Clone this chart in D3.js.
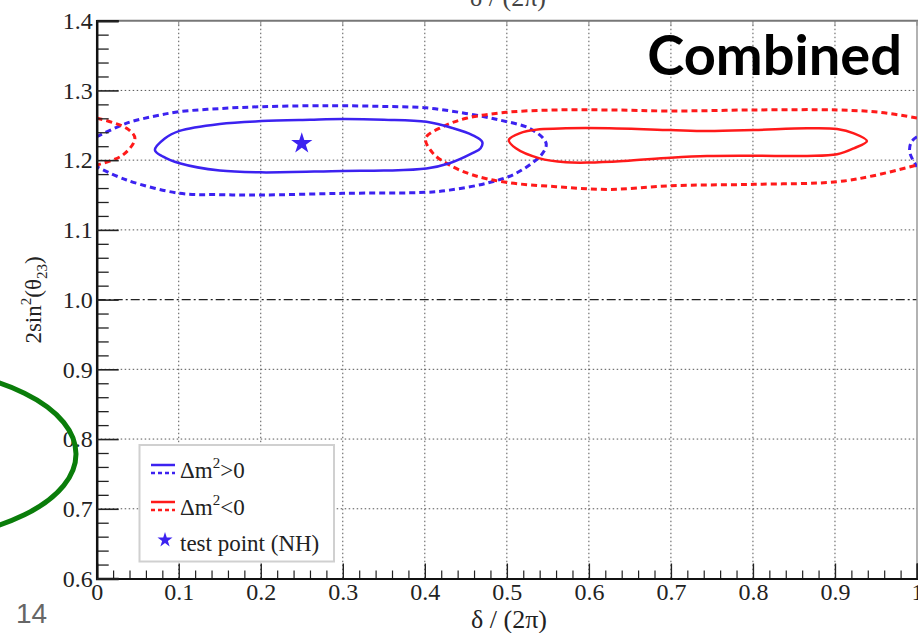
<!DOCTYPE html>
<html><head><meta charset="utf-8">
<script src="https://cdn.jsdelivr.net/npm/d3@7"></script>
<style>
html,body{margin:0;padding:0;background:#fff;overflow:hidden}
svg{display:block}
</style></head>
<body>
<svg id="c" width="918" height="633"></svg>
<script>
// ---------------- data ----------------
const xMajorTicks = [0,0.1,0.2,0.3,0.4,0.5,0.6,0.7,0.8,0.9,1.0];
const yMajorTicks = [0.6,0.7,0.8,0.9,1.0,1.1,1.2,1.3,1.4];
const xMinorStep = 0.02, yMinorStep = 0.02;
const refLine = 1.0;
const testPoint = [0.25, 1.224];

// NH (dm2>0) 1 sigma closed contour
const blueSolid = [[0.071,1.2145],[0.083,1.231],[0.101,1.242],[0.15,1.252],[0.201,1.256],[0.26,1.258],[0.3,1.259],[0.35,1.258],[0.402,1.255],[0.434,1.246],[0.458,1.236],[0.47,1.226],[0.468,1.217],[0.458,1.210],[0.430,1.1955],[0.402,1.188],[0.35,1.185],[0.3,1.1845],[0.2,1.1825],[0.15,1.185],[0.101,1.1955],[0.081,1.205]];
// NH 2 sigma (wraps around delta = 0/1)
const blueDashed = [[0,1.2336],[0.0365,1.253],[0.07,1.263],[0.101,1.2695],[0.15,1.274],[0.201,1.2767],[0.26,1.278],[0.3,1.278],[0.35,1.277],[0.402,1.275],[0.45,1.267],[0.491,1.2576],[0.5275,1.2457],[0.546,1.229],[0.548,1.221],[0.542,1.2074],[0.511,1.181],[0.475,1.1668],[0.430,1.157],[0.402,1.1539],[0.3,1.1524],[0.201,1.150],[0.15,1.1505],[0.101,1.1524],[0.0365,1.1715],[0,1.1906]];
const blueDashedWrap = [[1.0,1.2336],[0.993,1.226],[0.991,1.213],[0.995,1.200],[1.0,1.1906]];
// IH (dm2<0) 1 sigma closed contour
const redSolid = [[0.5024,1.2289],[0.5154,1.2385],[0.54,1.2442],[0.572,1.2457],[0.625,1.2457],[0.6996,1.2432],[0.744,1.2418],[0.801,1.2432],[0.866,1.2457],[0.9026,1.2447],[0.923,1.2385],[0.939,1.2275],[0.923,1.217],[0.9026,1.2084],[0.866,1.206],[0.801,1.2064],[0.744,1.206],[0.6996,1.2035],[0.643,1.1988],[0.6,1.1965],[0.572,1.197],[0.54,1.2026],[0.511,1.217]];
// IH 2 sigma (wraps around delta = 0/1)
const redDashed = [[1.0,1.2605],[0.955,1.2686],[0.9026,1.272],[0.801,1.272],[0.6996,1.2705],[0.625,1.272],[0.56,1.272],[0.499,1.2686],[0.4505,1.260],[0.422,1.248],[0.401,1.2313],[0.41,1.2097],[0.430,1.193],[0.4586,1.1787],[0.499,1.1682],[0.56,1.162],[0.625,1.158],[0.6996,1.1633],[0.801,1.1653],[0.9026,1.169],[0.947,1.1777],[1.0,1.193]];
const redDashedWrap = [[0,1.2605],[0.0365,1.2457],[0.0466,1.2313],[0.032,1.2074],[0,1.193]];

const legendItems = [
  {kind:"lines", color:"#3c22f0", pre:"Δm", sup:"2", post:">0"},
  {kind:"lines", color:"#ff1a1a", pre:"Δm", sup:"2", post:"<0"},
  {kind:"star",  color:"#3c22f0", pre:"test point (NH)", sup:"", post:""}
];

// ---------------- drawing ----------------
const BLUE = "#3c22f0", RED = "#ff1a1a";
const svg = d3.select("#c");
const L = 96.7, R = 917, T = 20.7, B = 578.5;
const x = d3.scaleLinear().domain([0,1]).range([L,R]);
const y = d3.scaleLinear().domain([0.6,1.4]).range([B,T]);
const serif = "'Liberation Serif','DejaVu Serif',serif";

svg.append("defs").append("clipPath").attr("id","plot")
  .append("rect").attr("x",L).attr("y",T).attr("width",R-L).attr("height",B-T);

// grid
const grid = svg.append("g");
grid.selectAll("line.v").data(xMajorTicks.filter(d=>d>0 && d<1)).join("line")
  .attr("x1",d=>x(d)).attr("x2",d=>x(d)).attr("y1",T).attr("y2",B)
  .attr("stroke","#555").attr("stroke-width",1).attr("stroke-dasharray","1.5 2.5");
grid.selectAll("line.h").data(yMajorTicks.filter(d=>d>0.6 && d<1.4 && d!==refLine)).join("line")
  .attr("x1",L).attr("x2",R).attr("y1",d=>y(d)).attr("y2",d=>y(d))
  .attr("stroke","#555").attr("stroke-width",1).attr("stroke-dasharray","1.5 2.5");
// reference line at 1.0
svg.append("line").attr("x1",L).attr("x2",R).attr("y1",y(refLine)).attr("y2",y(refLine))
  .attr("stroke","#222").attr("stroke-width",1.3).attr("stroke-dasharray","9 3 2 3");

// frame top/right
svg.append("line").attr("x1",L).attr("x2",918).attr("y1",T).attr("y2",T).attr("stroke","#777").attr("stroke-width",2);
svg.append("line").attr("x1",R).attr("x2",R).attr("y1",T).attr("y2",B).attr("stroke","#999").attr("stroke-width",1.5);
// top axis ticks
svg.append("g").selectAll("line").data(xMajorTicks).join("line")
  .attr("x1",d=>x(d)).attr("x2",d=>x(d)).attr("y1",T).attr("y2",T+5)
  .attr("stroke","#888").attr("stroke-width",1);

// contours
const plot = svg.append("g").attr("clip-path","url(#plot)");
const closedLine = d3.line().x(d=>x(d[0])).y(d=>y(d[1])).curve(d3.curveCatmullRomClosed.alpha(0.5));
const openLine = d3.line().x(d=>x(d[0])).y(d=>y(d[1])).curve(d3.curveCatmullRom.alpha(0.5));
const dash = "6 4";
plot.append("path").attr("d",openLine(blueDashed)).attr("fill","none").attr("stroke",BLUE).attr("stroke-width",3).attr("stroke-dasharray",dash);
plot.append("path").attr("d",openLine(blueDashedWrap)).attr("fill","none").attr("stroke",BLUE).attr("stroke-width",3).attr("stroke-dasharray",dash);
plot.append("path").attr("d",openLine(redDashed)).attr("fill","none").attr("stroke",RED).attr("stroke-width",3).attr("stroke-dasharray",dash);
plot.append("path").attr("d",openLine(redDashedWrap)).attr("fill","none").attr("stroke",RED).attr("stroke-width",3).attr("stroke-dasharray",dash);
plot.append("path").attr("d",closedLine(blueSolid)).attr("fill","none").attr("stroke",BLUE).attr("stroke-width",2.5);
plot.append("path").attr("d",closedLine(redSolid)).attr("fill","none").attr("stroke",RED).attr("stroke-width",2.5);
plot.append("path").attr("d",d3.symbol(d3.symbolStar,140)())
  .attr("transform",`translate(${x(testPoint[0])},${y(testPoint[1])})`).attr("fill",BLUE);

// axes
function styleAxis(g, fs){
  g.selectAll("text").attr("font-family",serif).attr("font-size",fs).attr("fill","#222");
}
const xMinor = d3.range(0,1.0001,xMinorStep).filter(v=>Math.abs(v*10-Math.round(v*10))>1e-6);
const yMinor = d3.range(0.6,1.4001,yMinorStep).filter(v=>Math.abs(v*10-Math.round(v*10))>1e-6);

const gxm = svg.append("g").attr("transform",`translate(0,${B})`)
  .call(d3.axisBottom(x).tickValues(xMinor).tickSize(-8).tickFormat(""));
gxm.select(".domain").remove();
gxm.selectAll("line").attr("stroke","#222").attr("stroke-width",1.2);
const gx = svg.append("g").attr("transform",`translate(0,${B})`)
  .call(d3.axisBottom(x).tickValues(xMajorTicks).tickSize(-15).tickPadding(4).tickFormat(d3.format("")));
gx.select(".domain").attr("stroke","#111").attr("stroke-width",2.2);
gx.selectAll("line").attr("stroke","#222").attr("stroke-width",1.4);
styleAxis(gx, 24);

const gym = svg.append("g").attr("transform",`translate(${L},0)`)
  .call(d3.axisLeft(y).tickValues(yMinor).tickSize(-12).tickFormat(""));
gym.select(".domain").remove();
gym.selectAll("line").attr("stroke","#222").attr("stroke-width",1.3);
const gy = svg.append("g").attr("transform",`translate(${L},0)`)
  .call(d3.axisLeft(y).tickValues(yMajorTicks).tickSize(-22).tickPadding(4).tickFormat(d3.format(".1f")));
gy.select(".domain").attr("stroke","#111").attr("stroke-width",2.5);
gy.selectAll("line").attr("stroke","#222").attr("stroke-width",1.6);
styleAxis(gy, 24);

// axis titles
svg.append("text").attr("x",509).attr("y",628).attr("text-anchor","middle")
  .attr("font-family",serif).attr("font-size",26).attr("fill","#222").text("δ / (2π)");
svg.append("text").attr("x",508).attr("y",6).attr("text-anchor","middle")
  .attr("font-family",serif).attr("font-size",26).attr("fill","#444").text("δ / (2π)");
const yt = svg.append("text").attr("transform","translate(41,300) rotate(-90)").attr("text-anchor","middle")
  .attr("font-family",serif).attr("font-size",23).attr("fill","#222");
yt.append("tspan").text("2sin");
yt.append("tspan").attr("font-size",15).attr("dy",-10).text("2");
yt.append("tspan").attr("dy",10).text("(θ");
yt.append("tspan").attr("font-size",15).attr("dy",6).text("23");
yt.append("tspan").attr("dy",-6).text(")");

// legend
const lg = svg.append("g");
lg.append("rect").attr("x",139.5).attr("y",445).attr("width",194.5).attr("height",116.5)
  .attr("fill","#fff").attr("stroke","#d0d0d0").attr("stroke-width",2);
const rowY = [474, 511, 547];
legendItems.forEach((it,i)=>{
  const yy = rowY[i];
  if(it.kind==="lines"){
    lg.append("line").attr("x1",151).attr("x2",175).attr("y1",yy-9).attr("y2",yy-9).attr("stroke",it.color).attr("stroke-width",2.5);
    lg.append("line").attr("x1",151).attr("x2",175).attr("y1",yy-1).attr("y2",yy-1).attr("stroke",it.color).attr("stroke-width",2.5).attr("stroke-dasharray","4 3");
  } else {
    lg.append("path").attr("d",d3.symbol(d3.symbolStar,70)()).attr("transform",`translate(165,${yy-7})`).attr("fill",it.color);
  }
  const t = lg.append("text").attr("x",180).attr("y",yy+4).attr("font-family",serif).attr("font-size",23).attr("fill","#222");
  t.append("tspan").text(it.pre);
  if(it.sup){
    t.append("tspan").attr("font-size",15).attr("dy",-10).text(it.sup);
    t.append("tspan").attr("dy",10).text(it.post);
  }
});

// "Combined" label
svg.append("text").attr("x",902).attr("y",75).attr("text-anchor","end")
  .attr("font-family","Lato,'Open Sans',sans-serif").attr("font-weight",700).attr("font-size",56).attr("fill","#000").text("Combined");

// green annotation ellipse
svg.append("ellipse").attr("cx",-100).attr("cy",454).attr("rx",176).attr("ry",86)
  .attr("fill","none").attr("stroke","#0a7d0a").attr("stroke-width",5);

// page number
svg.append("text").attr("x",16).attr("y",623).attr("font-family","'Liberation Sans',Arial,sans-serif")
  .attr("font-size",28).attr("fill","#666").text("14");
</script>
</body></html>
